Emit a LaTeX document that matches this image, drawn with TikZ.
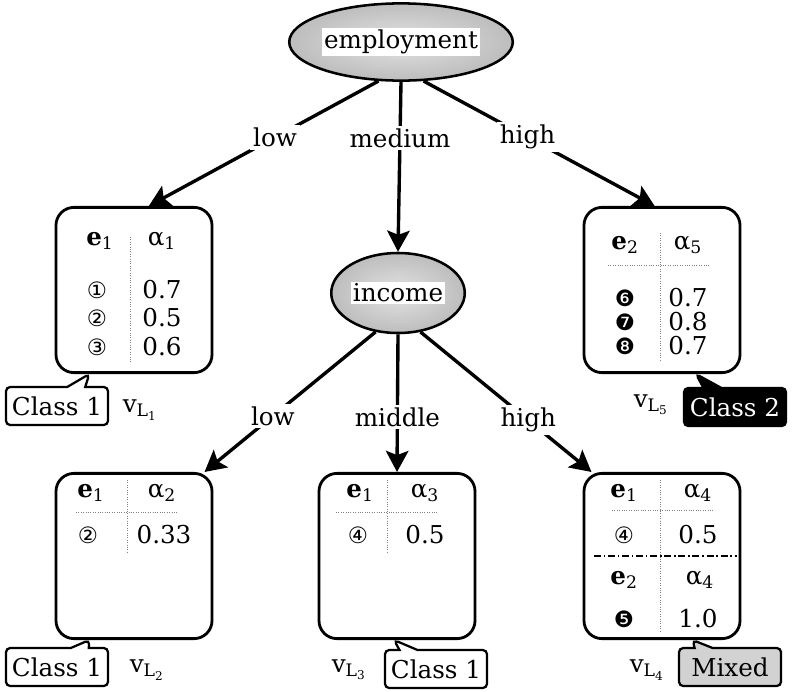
\documentclass[tikz,border=0pt]{standalone}
\usepackage{fontspec}
\setmainfont{DejaVu Serif}
\newfontfamily\circfont{DejaVu Sans}
\usepackage{tikz}
\usetikzlibrary{positioning}
\usetikzlibrary{shapes,arrows.meta}
\setlength{\fboxsep}{1.5pt}
\tikzset{%
  leaf/.style     = {draw, line width=2pt, rectangle, rounded corners=0.45cm,
    minimum width=3.9cm, minimum height=4.13cm}, % leaf table
  attr/.style     = {draw, line width=1.8pt, ellipse, inner sep=0pt,
    inner color=gray!22, outer color=gray!52}, % split attribute
  tag/.style      = {draw, line width=1.6pt, rectangle callout, rounded corners=3pt,
    callout pointer width=0.45cm, minimum width=2.55cm, minimum height=0.95cm,
    inner sep=1pt}, % class tag
  branch/.style   = {line width=2.4pt, -{Stealth[length=15pt, width=16pt, inset=3pt]}},
  cond/.style     = {fill=white, inner sep=2pt}, % branch label
  sep/.style      = {gray, densely dotted, line width=0.7pt}, % table rule
  cell/.style     = {inner sep=0pt},
  circ/.style     = {inner sep=0pt, font=\fontsize{16pt}{18pt}\circfont}
}

\begin{document}
\begin{tikzpicture}[x=0.025cm, y=-0.025cm, font=\fontsize{17.5pt}{20pt}\selectfont]
  \useasboundingbox (0,0) rectangle (793,691);

  % split nodes
  \draw node at (401,42) [attr, minimum width=4.45cm, minimum height=1.93cm] (employment) {\colorbox{white}{employment}};
  \draw node at (398,293) [attr, minimum width=3.3cm, minimum height=2cm] (income) {\colorbox{white}{income}};

  % leaves
  \draw node at (134,290) [leaf] (l1) {};
  \draw node at (662,290) [leaf] (l5) {};
  \draw node at (134,556) [leaf] (l2) {};
  \draw node at (397,556) [leaf] (l3) {};
  \draw node at (662,556) [leaf] (l4) {};

  % branches
  \draw[branch] (employment.240) -- node[cond, pos=0.45] (empLow) {low} (l1.80);
  \draw[branch] (employment.south) -- node[cond, pos=0.33] (empMed) {medium} (income.north);
  \draw[branch] (employment.300) -- node[cond, pos=0.45] (empHigh) {high} (l5.95);
  \draw[branch] (income.240) -- node[cond, pos=0.6] (incLow) {low} (l2.50);
  \draw[branch] (income.south) -- node[cond, pos=0.6] (incMid) {middle} (l3.north);
  \draw[branch] (income.300) -- node[cond, pos=0.63] (incHigh) {high} (l4.130);

  % leaf 1
  \draw node at (100,241) [cell] (l1e) {\textbf{e}\textsubscript{1}};
  \draw node at (162,241) [cell] (l1a) {α\textsubscript{1}};
  \draw[sep] (130,237) -- (130,363);
  \foreach \n/\y/\d/\v in {1/290/①/0.7, 2/318/②/0.5, 3/347/③/0.6}{
    \draw node at (97,\y) [circ] (l1k\n) {\d};
    \draw node at (162,\y) [cell] (l1v\n) {\v};
  }

  % leaf 5
  \draw node at (625,245) [cell] (l5e) {\textbf{e}\textsubscript{2}};
  \draw node at (688,245) [cell] (l5a) {α\textsubscript{5}};
  \draw[sep] (608,265) -- (710,265);
  \draw[sep] (660,233) -- (660,362);
  \foreach \n/\y/\d/\v in {1/298/❻/0.7, 2/322/❼/0.8, 3/346/❽/0.7}{
    \draw node at (625,\y) [circ] (l5k\n) {\d};
    \draw node at (688,\y) [cell] (l5v\n) {\v};
  }

  % leaf 2
  \draw node at (91,493) [cell] (l2e) {\textbf{e}\textsubscript{1}};
  \draw node at (162,493) [cell] (l2a) {α\textsubscript{2}};
  \draw[sep] (76,512) -- (177,512);
  \draw[sep] (127,480) -- (127,552);
  \draw node at (88,535) [circ] (l2k1) {②};
  \draw node at (164,535) [cell] (l2v1) {0.33};

  % leaf 3
  \draw node at (360,493) [cell] (l3e) {\textbf{e}\textsubscript{1}};
  \draw node at (425,493) [cell] (l3a) {α\textsubscript{3}};
  \draw[sep] (336,512) -- (437,512);
  \draw[sep] (387,480) -- (387,552);
  \draw node at (358,535) [circ] (l3k1) {④};
  \draw node at (425,535) [cell] (l3v1) {0.5};

  % leaf 4
  \draw node at (624,493) [cell] (l4e) {\textbf{e}\textsubscript{1}};
  \draw node at (698,493) [cell] (l4a) {α\textsubscript{4}};
  \draw[sep] (612,510) -- (713,510);
  \draw[sep] (660,480) -- (660,632);
  \draw node at (624,535) [circ] (l4k1) {④};
  \draw node at (698,535) [cell] (l4v1) {0.5};
  \draw[line width=1.5pt, dash pattern=on 5pt off 2pt on 1pt off 2pt] (594,556) -- (737,556);
  \draw node at (624,580) [cell] (l4f) {\textbf{e}\textsubscript{2}};
  \draw node at (700,580) [cell] (l4b) {α\textsubscript{4}};
  \draw node at (624,619) [circ] (l4k2) {❺};
  \draw node at (698,619) [cell] (l4v2) {1.0};

  % class tags
  \draw node at (57,406) [tag, callout absolute pointer={(l1.242)}] (c1) {Class 1};
  \draw node at (735,407) [tag, fill=black, text=white, callout absolute pointer={(l5.292)}] (c5) {Class 2};
  \draw node at (57,667) [tag, callout absolute pointer={(l2.242)}] (c2) {Class 1};
  \draw node at (436,669) [tag, callout absolute pointer={(l3.268)}] (c3) {Class 1};
  \draw node at (730,667) [tag, fill=gray!35, callout absolute pointer={(l4.290)}] (c4) {Mixed};

  % leaf names
  \draw node at (140,410) (v1) {v\textsubscript{L\textsubscript{1}}};
  \draw node at (651,405) (v5) {v\textsubscript{L\textsubscript{5}}};
  \draw node at (147,670) (v2) {v\textsubscript{L\textsubscript{2}}};
  \draw node at (349,670) (v3) {v\textsubscript{L\textsubscript{3}}};
  \draw node at (647,670) (v4) {v\textsubscript{L\textsubscript{4}}};

\end{tikzpicture}
\end{document}
